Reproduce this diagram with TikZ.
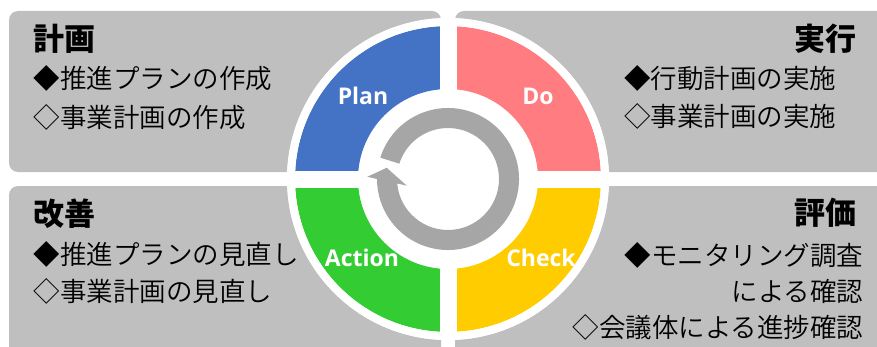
\documentclass[tikz,border=0pt]{standalone}
\usepackage{fontspec}
\setmainfont{Noto Sans CJK JP}
\newfontfamily\itemfont{Noto Sans CJK JP DemiLight}
\newfontfamily\phasefont{Open Sans}
\usetikzlibrary{calc}
\definecolor{panelgray}{HTML}{BFBFBF}
\definecolor{arrowgray}{HTML}{A6A6A6}
\definecolor{planblue}{HTML}{4472C4}
\definecolor{dored}{HTML}{FF7C80}
\definecolor{checkyellow}{HTML}{FFCC00}
\definecolor{actiongreen}{HTML}{33CC33}
\begin{document}
\begin{tikzpicture}[
    x=1pt, y=1pt,
    panel/.style={fill=panelgray, rounded corners=9pt},
    head/.style={inner sep=0pt, font=\fontsize{31}{31}\selectfont\bfseries},
    item/.style={inner sep=0pt, font=\itemfont\fontsize{26.5}{26.5}\selectfont},
    phase/.style={text=white, inner sep=0pt, font=\phasefont\fontsize{23}{23}\selectfont\bfseries},
    gap/.style={white, line width=17pt}
]
\useasboundingbox (0,0) rectangle (877,346);
\clip (0,0) rectangle (877,346);
\fill[panel] (9,174) rectangle (441,335);
\fill[panel] (455,174) rectangle (900,335);
\fill[panel] (9,-20) rectangle (441,160);
\fill[panel] (455,-20) rectangle (900,160);
\coordinate (c) at (448,167);
\fill[white] (c) circle (161);
\foreach \a/\col in {90/planblue, 0/dored, -90/checkyellow, 180/actiongreen}
  \fill[\col] ($(c)+(\a:153)$) arc[start angle=\a, end angle=\a+90, radius=153]
    -- ($(c)+(\a+90:90)$) arc[start angle=\a+90, end angle=\a, radius=90] -- cycle;
\draw[gap] ($(c)+(-160,0)$) -- ($(c)+(160,0)$);
\draw[gap] ($(c)+(0,-160)$) -- ($(c)+(0,160)$);
\fill[arrowgray] ($(c)+(162.5:71)$) arc[start angle=162.5, end angle=-180, radius=71]
  -- ($(c)+(178.4:80.7)$) -- ($(c)+(169.6:62.3)$) -- ($(c)+(189.2:41.8)$)
  -- ($(c)+(185:51)$) arc[start angle=-175, end angle=162.5, radius=51] -- cycle;
\node[phase] (plan) at (363,250) {Plan};
\node[phase] (do) at (538,250) {Do};
\node[phase] (check) at (541,88) {Check};
\node[phase] (action) at (362,88) {Action};
\draw[white, line width=8pt] (c) circle (157);
\node[head, anchor=west] (plan-title) at (33.5,307.7) {計画};
\node[item, anchor=west] (plan-1) at (33.5,267.5) {◆推進プランの作成};
\node[item, anchor=west] (plan-2) at (33.5,229) {◇事業計画の作成};
\node[head, anchor=east] (do-title) at (857,307) {実行};
\node[item, anchor=east] (do-1) at (836.5,267.7) {◆行動計画の実施};
\node[item, anchor=east] (do-2) at (836.5,229.3) {◇事業計画の実施};
\node[head, anchor=east] (check-title) at (857,133.5) {評価};
\node[item, anchor=east] (check-1) at (863.5,90.2) {◆モニタリング調査};
\node[item, anchor=east] (check-2) at (863.5,54.3) {による確認};
\node[item, anchor=east] (check-3) at (863.5,18.5) {◇会議体による進捗確認};
\node[head, anchor=west] (action-title) at (33.5,132.7) {改善};
\node[item, anchor=west] (action-1) at (33.5,92) {◆推進プランの見直し};
\node[item, anchor=west] (action-2) at (33.5,54.3) {◇事業計画の見直し};
\end{tikzpicture}
\end{document}
